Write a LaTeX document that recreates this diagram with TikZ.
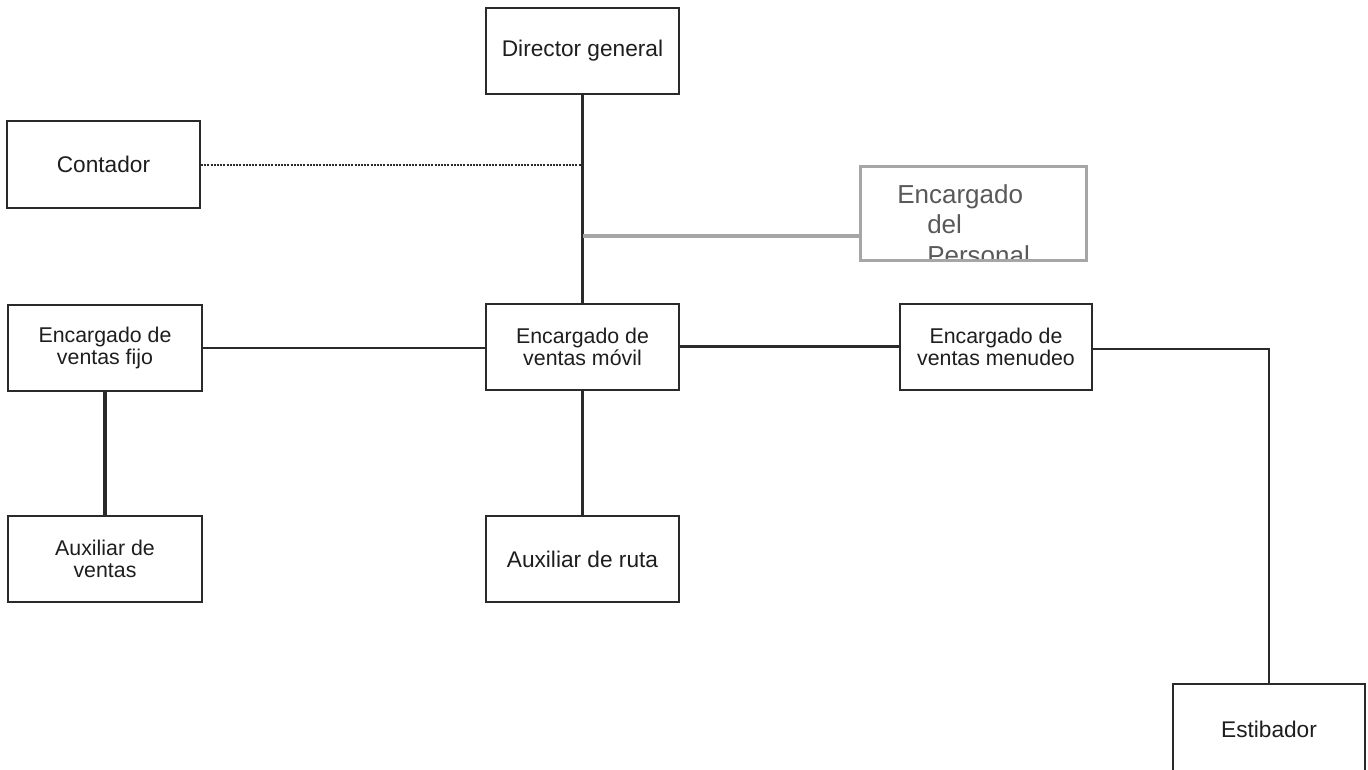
\documentclass[tikz,border=0pt]{standalone}
\usepackage{fontspec}
\setmainfont{Liberation Sans}
\definecolor{edge}{HTML}{2A2A2A}
\definecolor{txt}{HTML}{1E1E1E}
\definecolor{grayedge}{HTML}{A6A6A6}
\definecolor{graytxt}{HTML}{595959}
\tikzset{
  orgbox/.style={draw=edge, line width=1.5pt, fill=white, minimum width=#1*0.75pt, minimum height=64.5pt, inner sep=0pt, align=center, text=txt, font=\fontsize{17}{16.5}\selectfont},
  orgbox/.default=193,
  twoline/.style={font=\fontsize{16}{16.5}\selectfont},
  link/.style={draw=edge, line width=1.6pt},
  dotlink/.style={draw=edge, line width=2pt, dash pattern=on 1.5pt off 0.9pt},
  graylink/.style={draw=grayedge, line width=3pt},
  perstxt/.style={inner sep=0pt, text=graytxt, font=\fontsize{19.5}{22.5}\selectfont}
}
\begin{document}
\begin{tikzpicture}[x=0.75pt, y=-0.75pt]
\useasboundingbox (0,0) rectangle (1368,769);
\clip (0,0) rectangle (1368,769);
\fill[white] (0,0) rectangle (1368,769);

% nodes
\node[orgbox] (dir) at (582.5,51) {Director general};
\node[orgbox, minimum height=65.25pt] (cont) at (103.5,164.5) {Contador};
\node[orgbox=194, twoline] (fijo) at (105,348) {Encargado de\\ventas fijo};
\node[orgbox, twoline] (movil) at (582.5,346.5) {Encargado de\\ventas móvil};
\node[orgbox=192, twoline] (menu) at (996,346.5) {Encargado de\\ventas menudeo};
\node[orgbox=194, twoline] (auxv) at (105,559) {Auxiliar de\\ventas};
\node[orgbox] (auxr) at (582.5,559) {Auxiliar de ruta};
\node[orgbox=192, minimum height=67.5pt] (esti) at (1269,729) {Estibador};

% Encargado del Personal (text clipped by its box)
\node[draw=none, minimum width=168.75pt, minimum height=69.75pt, inner sep=0pt] (pers) at (973.5,213.5) {};
\begin{scope}
  \clip (pers.south west) rectangle (pers.north east);
  \node[perstxt, anchor=base west] (p1) at (897,203) {Encargado};
  \node[perstxt, anchor=base west] (p2) at (927,233) {del};
  \node[perstxt, anchor=base west] (p3) at (927,264) {Personal};
\end{scope}
\draw[draw=grayedge, line width=2pt] (pers.south west) rectangle (pers.north east);

% connectors
\coordinate (cdot) at (582,165);
\coordinate (cgray) at (583,236);
\coordinate (corner) at (1269,349);

\draw[link] (dir.south) -- (movil.north);
\draw[dotlink] (cont.east |- cdot) -- (cdot);
\draw[graylink] (cgray) -- (cgray -| pers.west);
\draw[link] (fijo.east) -- (fijo.east -| movil.west);
\draw[link] (movil.east) -- (movil.east -| menu.west);
\draw[link] (menu.east |- corner) -- (corner) -- (esti.north);
\draw[link, line width=2.3pt] (fijo.south) -- (auxv.north);
\draw[link] (movil.south) -- (auxr.north);
\end{tikzpicture}
\end{document}
